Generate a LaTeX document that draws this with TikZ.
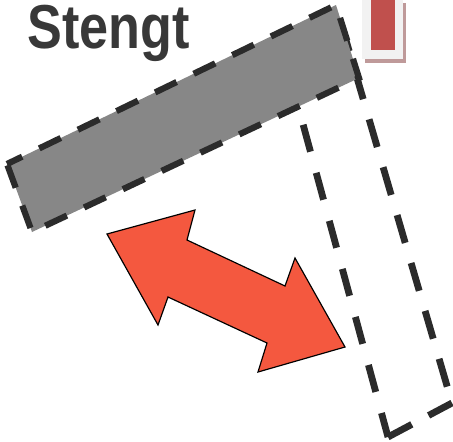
\documentclass[tikz,border=0pt]{standalone}
\usepackage{fontspec}
\usepackage{graphicx}
\setsansfont{Liberation Sans}
\definecolor{GateGrey}{HTML}{878787}
\definecolor{EdgeBlack}{HTML}{2B2B2B}
\definecolor{ArrowRed}{HTML}{F4583F}
\definecolor{TagRed}{HTML}{C0504D}
\definecolor{TagShadow}{HTML}{BF9A9A}
\definecolor{TagBack}{HTML}{F2F2F2}
\definecolor{TitleGrey}{HTML}{383838}
\usetikzlibrary{calc}

\begin{document}
\begin{tikzpicture}[x=0.03cm, y=-0.03cm,
    gateline/.style={draw=EdgeBlack, line width=5.3pt,
                     dash pattern=on 20.4pt off 16.2pt, dash phase=6pt},
    openline/.style={draw=EdgeBlack, line width=5.8pt}]
  \useasboundingbox (0,0) rectangle (453,441);
  \clip (0,0) rectangle (453,441);
  % gate, closed position
  \coordinate (gTL) at (7,164);
  \coordinate (gTR) at (336,5);
  \coordinate (gBR) at (359,78);
  \coordinate (gBL) at (32,232);
  % gate, open position
  \coordinate (oBL) at (388,437);
  \coordinate (oBR) at (452,403);
  \coordinate (oLeftEnd) at (291,80);
  \coordinate (oRightEnd) at (336,6);

  \draw[openline, dash pattern=on 23.8pt off 18.7pt, dash phase=2.6pt] (oBL) -- (oLeftEnd);
  \draw[openline, dash pattern=on 23pt off 16.2pt] (oBL) -- (oBR);
  \draw[openline, dash pattern=on 24.7pt off 17.9pt, dash phase=28pt] (oBR) -- (oRightEnd);

  \path[gateline, fill=GateGrey] (gTL) -- (gTR) -- (gBR) -- (gBL) -- cycle;

  % double arrow
  \draw[fill=ArrowRed, draw=black, line width=1pt, line join=miter]
    (107,234) -- (195,210) -- (187,240) -- (285,286) -- (295,258) -- (345,347)
    -- (258,372) -- (267,343) -- (168,297) -- (158,325) -- cycle;

  \node[anchor=base west, inner sep=0pt, text=TitleGrey,
        font=\sffamily\bfseries\fontsize{53}{57}\selectfont] (title) at (27.5,48)
        {\scalebox{0.84}[1]{Stengt}};

  % small tag, top right
  \fill[TagShadow] (365,3) rectangle (406,63);
  \fill[TagBack] (362,0) rectangle (403,59);
  \fill[TagRed] (371,0) rectangle (395,50);
\end{tikzpicture}
\end{document}
